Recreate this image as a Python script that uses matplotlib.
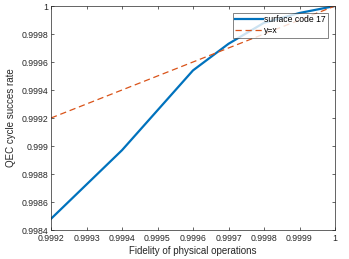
import matplotlib
matplotlib.use("Agg")
import matplotlib.pyplot as plt

fidelity = [0.9992, 0.9994, 0.9996, 0.9997, 0.9998, 0.9999, 1.0]
surface17 = [0.99848, 0.99897, 0.99954, 0.99973, 0.99988, 0.99995, 1.0]
yx = [0.9992, 1.0]
xticks = [0.9992, 0.9993, 0.9994, 0.9995, 0.9996, 0.9997, 0.9998, 0.9999, 1.0]
xticklabels = ["0.9992", "0.9993", "0.9994", "0.9995", "0.9996", "0.9997", "0.9998", "0.9999", "1"]
yticks = [0.9984, 0.9986, 0.9988, 0.999, 0.9992, 0.9994, 0.9996, 0.9998, 1.0]
yticklabels = ["0.9984", "0.9986", "0.9988", "0.999", "0.9992", "0.9994", "0.9996", "0.9998", "1"]

plt.rcParams['font.family'] = ['Liberation Sans', 'DejaVu Sans']
fig = plt.figure(figsize=(3.49, 2.59), dpi=100)
ax = fig.add_axes([51/349, 1-230/259, 284/349, 224/259])
ax.plot(fidelity, surface17, color='#0072BD', lw=1.6, label='surface code 17')
ax.plot(yx, yx, color='#D95319', lw=0.9, ls=(0, (5, 3)), label='y=x')
ax.set_xlim(0.9992, 1.0)
ax.set_ylim(0.9984, 1.0)
ax.set_xticks(xticks)
ax.set_xticklabels(xticklabels)
ax.set_yticks(yticks)
ax.set_yticklabels(yticklabels)
ax.tick_params(direction='in', top=True, right=True, labelsize=6.3, length=2.5, width=0.5,
               colors='#262626', pad=2)
ax.tick_params(axis='x', pad=3)
for s in ax.spines.values():
    s.set_linewidth(0.5)
    s.set_color('#262626')
ax.set_xlabel('Fidelity of physical operations', fontsize=7, color='#262626', labelpad=2)
ax.set_ylabel('QEC cycle succes rate', fontsize=7, color='#262626', labelpad=4)
leg = ax.legend(loc='upper right', fontsize=6.2, frameon=True, fancybox=False,
                edgecolor='#262626', borderpad=0.3, handlelength=3.2, handletextpad=0.1,
                labelspacing=0.2, borderaxespad=0.8)
leg.get_frame().set_linewidth(0.5)
fig.savefig('out.png', dpi=100)
